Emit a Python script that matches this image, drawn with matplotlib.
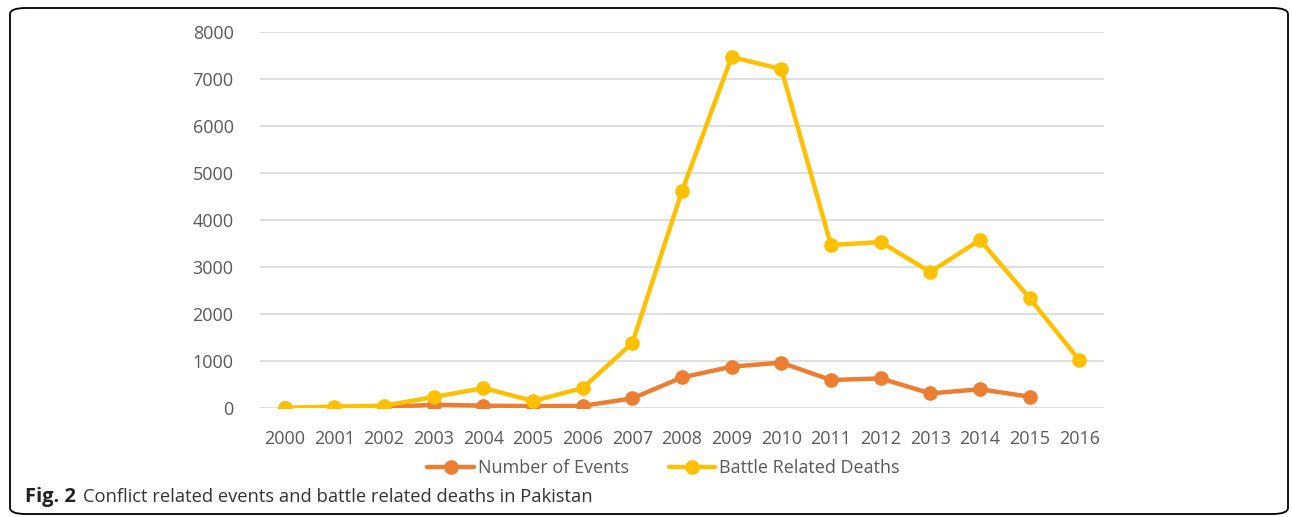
import matplotlib.pyplot as plt
from matplotlib.patches import FancyBboxPatch

# Data
years = list(range(2000, 2017))
events = [0, 5, 20, 70, 50, 40, 45, 205, 650, 880, 965, 595, 630, 310, 400, 240]
deaths = [0, 30, 50, 234, 425, 150, 425, 1383, 4617, 7468, 7213, 3468, 3532, 2894, 3574, 2340, 1021]

plt.rcParams['font.family'] = ['Open Sans', 'DejaVu Sans']
text_col = "#595959"

fig = plt.figure(figsize=(12.92, 5.17), dpi=100)
ax = fig.add_axes([260 / 1292, 109 / 517, 844 / 1292, 376 / 517])

ax.plot(years[:len(events)], events, color="#ED7D31", lw=3.2, marker="o", ms=9.5,
        label="Number of Events", solid_capstyle="round", zorder=3)
ax.plot(years, deaths, color="#FFC000", lw=3.2, marker="o", ms=9.5,
        label="Battle Related Deaths", solid_capstyle="round", zorder=3)

ax.set_xlim(1999.5, 2016.5)
ax.set_ylim(0, 8000)
ax.set_yticks(range(0, 8001, 1000))
ax.set_xticks(years)
ax.set_xticklabels([str(y) for y in years])
ax.grid(axis="y", color="#D9D9D9", lw=1.2)
ax.set_axisbelow(True)
for s in ax.spines.values():
    s.set_visible(False)
ax.tick_params(length=0, labelsize=13, colors=text_col)
ax.tick_params(axis="y", pad=19)
ax.tick_params(axis="x", pad=15.5)

ax.legend(loc="upper center", bbox_to_anchor=(0.478, -0.093), ncol=2, frameon=False,
          fontsize=13, labelcolor=text_col, handlelength=2.6, columnspacing=2.2,
          handletextpad=0.2)

# caption
fig.text(25 / 1292, 1 - 497 / 517, "Fig. 2", fontsize=14.5, fontweight="bold",
         color="#222222", va="center", ha="left")
fig.text(83 / 1292, 1 - 497 / 517, "Conflict related events and battle related deaths in Pakistan",
         fontsize=13.2, color="#333333", va="center", ha="left")

# rounded frame
frame = FancyBboxPatch((10 / 1292, 3 / 517), 1278 / 1292, 506 / 517,
                       boxstyle="round,pad=0,rounding_size=0.012",
                       transform=fig.transFigure, fill=False, ec="black", lw=1.3)
fig.patches.append(frame)

fig.savefig("out.png", dpi=100)
